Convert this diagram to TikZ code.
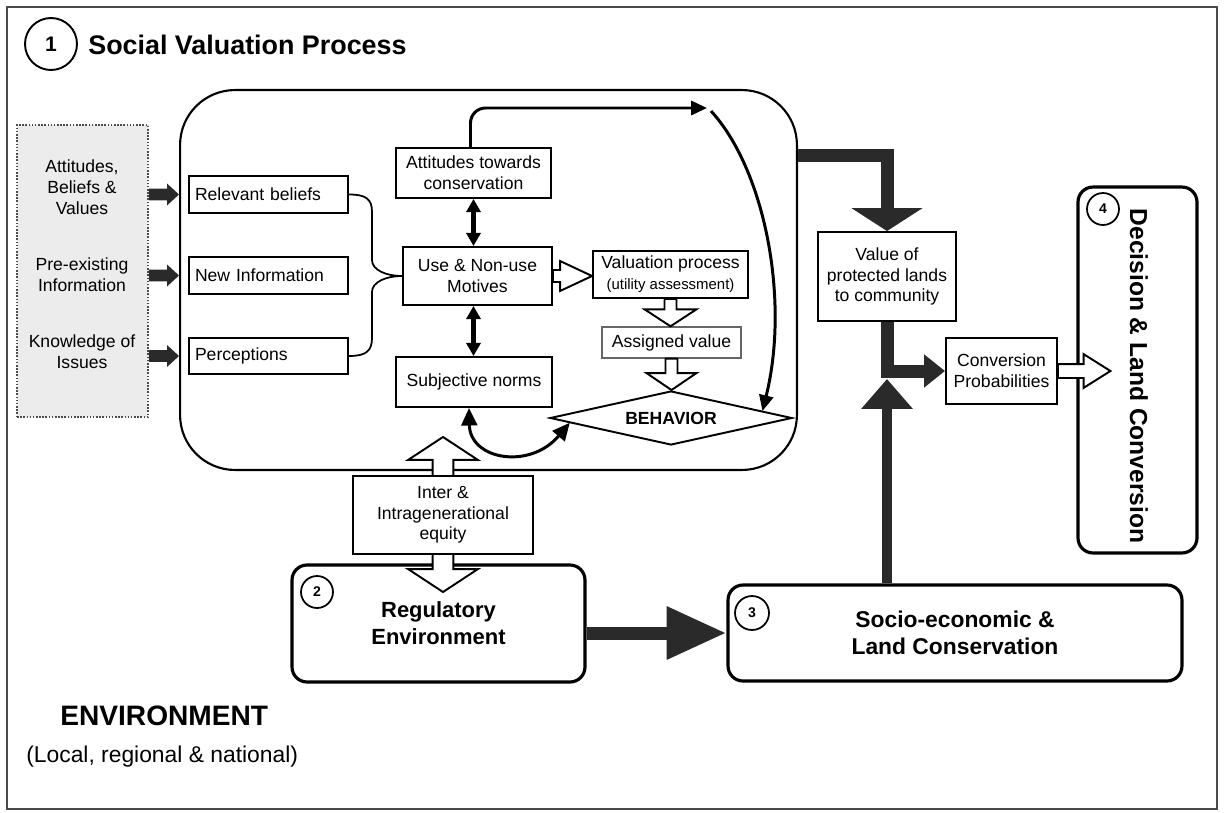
\documentclass[tikz,border=0pt]{standalone}
\usepackage{fontspec}
\setmainfont{Liberation Sans}
\usetikzlibrary{arrows.meta,shapes.geometric,calc}

\definecolor{inkdark}{HTML}{2A2A2A}
\definecolor{framegray}{HTML}{4A4A4A}
\definecolor{srcfill}{HTML}{ECECEC}

% one drawing unit is one pixel of the canvas
\def\pxu{0.5669pt}

% block arrow pointing right: style, start, tip, shaft half-width, head half-width, head length
\newcommand\rblock[6]{%
  \path[#1] let \p1=(#2), \p2=(#3) in
    (\x1,{\y1+#4*\pxu}) -- ({\x2-#6*\pxu},{\y1+#4*\pxu}) -- ({\x2-#6*\pxu},{\y1+#5*\pxu})
    -- (\x2,\y1) -- ({\x2-#6*\pxu},{\y1-#5*\pxu}) -- ({\x2-#6*\pxu},{\y1-#4*\pxu})
    -- (\x1,{\y1-#4*\pxu}) -- cycle;}
% block arrow pointing down
\newcommand\dblock[6]{%
  \path[#1] let \p1=(#2), \p2=(#3) in
    ({\x1-#4*\pxu},\y1) -- ({\x1-#4*\pxu},{\y2+#6*\pxu}) -- ({\x1-#5*\pxu},{\y2+#6*\pxu})
    -- (\x1,\y2) -- ({\x1+#5*\pxu},{\y2+#6*\pxu}) -- ({\x1+#4*\pxu},{\y2+#6*\pxu})
    -- ({\x1+#4*\pxu},\y1) -- cycle;}
% vertical block arrow with heads at both ends: style, top tip, bottom tip, ...
\newcommand\vvblock[6]{%
  \path[#1] let \p1=(#2), \p2=(#3) in
    (\x1,\y1) -- ({\x1+#5*\pxu},{\y1-#6*\pxu}) -- ({\x1+#4*\pxu},{\y1-#6*\pxu})
    -- ({\x1+#4*\pxu},{\y2+#6*\pxu}) -- ({\x1+#5*\pxu},{\y2+#6*\pxu}) -- (\x1,\y2)
    -- ({\x1-#5*\pxu},{\y2+#6*\pxu}) -- ({\x1-#4*\pxu},{\y2+#6*\pxu})
    -- ({\x1-#4*\pxu},{\y1-#6*\pxu}) -- ({\x1-#5*\pxu},{\y1-#6*\pxu}) -- cycle;}

\tikzset{
  txt/.style={inner sep=0pt, align=center, font=\fontsize{10}{11.8}\selectfont},
  box/.style={draw, line width=1.1pt, fill=white, inner sep=0pt, align=center, font=\fontsize{10}{11.8}\selectfont},
  lbox/.style={box, text width=2.94cm, align=left},
  bigbox/.style={draw, line width=1.8pt, fill=white, rounded corners=0.3cm, inner sep=0pt, align=center},
  numcirc/.style={circle, draw, line width=1pt, fill=white, inner sep=0pt, minimum size=0.64cm, font=\bfseries\fontsize{8}{9}\selectfont},
  openarrow/.style={draw, fill=white, line width=1.1pt, line join=miter},
  darkarrow/.style={fill=inkdark},
  heavy/.style={draw=inkdark, line width=#1},
  curvearrow/.style={line width=1.7pt, -{Triangle[length=9pt,width=8pt]}},
  twocurve/.style={line width=1.7pt, {Triangle[length=10pt,width=9pt]}-{Triangle[length=10pt,width=9pt]}},
  twoway/.style={line width=2.3pt, {Triangle[length=7.5pt,width=8pt]}-{Triangle[length=7.5pt,width=8pt]}},
}

\begin{document}
\begin{tikzpicture}[x=0.02cm, y=-0.02cm]
\useasboundingbox (0,0) rectangle (1224,812);

% outer frame
\draw[framegray, line width=1.1pt] (7,7) rectangle (1217,809);

% heading
\node[circle, draw, line width=1.1pt, inner sep=0pt, minimum size=1.04cm, font=\bfseries\fontsize{12}{14}\selectfont] (c1) at (51,44) {1};
\node[anchor=west, inner sep=0pt, font=\bfseries\fontsize{15.3}{18}\selectfont] (title) at (88,45) {Social Valuation Process};

% inputs
\node[draw=black!70, dash pattern=on 0.9pt off 0.9pt, line width=0.9pt, fill=srcfill, minimum width=2.62cm, minimum height=5.84cm] (src) at (82.5,271) {};
\node[txt] (a1) at (82,187) {Attitudes,\\Beliefs \&\\Values};
\node[txt] (a2) at (82,275) {Pre-existing\\Information};
\node[txt] (a3) at (82,352) {Knowledge of\\Issues};

% social valuation process frame
\node[draw, line width=1.2pt, rounded corners=1.1cm, minimum width=12.34cm, minimum height=7.6cm] (vp) at (488.5,280) {};

% lower environment boxes
\node[bigbox, minimum width=5.86cm, minimum height=2.34cm, font=\bfseries\fontsize{12.5}{15.3}\selectfont] (reg) at (438.5,623.5) {Regulatory\\Environment};
\node[bigbox, minimum width=9.08cm, minimum height=1.92cm, font=\bfseries\fontsize{13}{15.3}\selectfont] (so) at (955,633) {Socio-economic \&\\Land Conservation};
\node[bigbox, minimum width=2.38cm, minimum height=7.32cm] (dec) at (1137.5,370) {};
\node[rotate=-90, inner sep=0pt, font=\bfseries\fontsize{14}{17}\selectfont] (dect) at (1139,376) {Decision \& Land Conversion};

% perception inputs
\node[lbox, minimum width=3.18cm, minimum height=0.74cm] (rb) at (268.5,194.5) {Relevant beliefs};
\node[lbox, minimum width=3.18cm, minimum height=0.74cm] (ni) at (268.5,275.5) {New Information};
\node[lbox, minimum width=3.18cm, minimum height=0.72cm] (pe) at (268.5,356) {Perceptions};

% motives column
\node[box, minimum width=3.10cm, minimum height=1.0cm] (at) at (473.5,173) {Attitudes towards\\conservation};
\node[box, minimum width=2.98cm, minimum height=1.16cm] (um) at (477.5,276) {Use \& Non-use\\Motives};
\node[box, minimum width=3.12cm, minimum height=1.0cm] (sn) at (474,382) {Subjective norms};

% valuation column
\node[box, minimum width=3.10cm, minimum height=0.94cm] (vpr) at (670.5,274.5) {Valuation process\\{\fontsize{8.5}{10}\selectfont(utility assessment)}};
\node[box, draw=black!60, line width=0.8pt, minimum width=2.78cm, minimum height=0.62cm] (av) at (671.5,342.5) {Assigned value};
\node[draw, diamond, aspect=4.5, line width=1.1pt, fill=white, inner sep=0pt, minimum width=4.84cm, minimum height=1.08cm, font=\bfseries\fontsize{10}{12}\selectfont] (beh) at (671,418) {BEHAVIOR};

% outcome boxes
\node[box, minimum width=2.76cm, minimum height=1.78cm] (val) at (887,276.5) {Value of\\protected lands\\to community};
\node[box, minimum width=2.22cm, minimum height=1.32cm] (cp) at (1001.5,371) {Conversion\\Probabilities};

% brace gathering the three inputs
\draw[line width=1pt] (rb.east) .. controls (366,194.5) and (372,199) .. (372,212) -- (372,260) .. controls (372,270) and (386,276) .. (um.west);
\draw[line width=1pt] (pe.east) .. controls (366,356) and (372,351) .. (372,338) -- (372,292) .. controls (372,282) and (386,276) .. (um.west);

% input arrows
\rblock{darkarrow}{src.east |- rb.west}{vp.west |- rb.west}{6}{11}{12}
\rblock{darkarrow}{src.east |- ni.west}{vp.west |- ni.west}{6}{11}{12}
\rblock{darkarrow}{src.east |- pe.west}{vp.west |- pe.west}{6}{11}{12}

% two-way links in the motives column
\draw[twoway] (at.south) -- (at.south |- um.north);
\draw[twoway] (at.south |- um.south) -- (at.south |- sn.north);

% open flow arrows of the valuation
\rblock{openarrow}{um.east}{vpr.west}{6}{15}{32}
\dblock{openarrow}{vpr.south}{av.north}{6}{26}{17}
\dblock{openarrow}{av.south}{beh.north}{6}{25}{17}

% attitudes feeding behaviour
\coordinate (tp) at (707,108);
\coordinate (tp2) at (711,111);
\draw[curvearrow, rounded corners=0.3cm] ($(at.north)+(-3,0)$) |- (tp);
\draw[curvearrow] (tp2) .. controls (765,170) and (790,300) .. ($(beh.north east)!0.5!(beh.east)$);
\draw[twocurve] ($(sn.south)+(-5,0)$) .. controls (470,460) and (530,470) .. ($(beh.west)!0.17!(beh.south)$);

% equity link between the process and the regulatory environment
\coordinate (eqtop) at (443,437);
\coordinate (eqbot) at (443,592);
\vvblock{openarrow}{eqtop}{eqbot}{10.5}{35}{23}
\node[box, minimum width=3.60cm, minimum height=1.56cm] (ie) at (443,515) {Inter \&\\Intragenerational\\equity};

% heavy flow arrows
\coordinate (vpout) at ($(vp.north east)+(0,67)$);
\coordinate (junc) at ($(val.south |- cp.west)+(0,8)$);
\draw[heavy=7.4pt, -{Triangle[length=13pt,width=39.7pt]}] (vpout) -| (val.north);
\draw[heavy=7.4pt, -{Triangle[length=11.9pt,width=18.1pt]}] (val.south) |- (cp.west);
\draw[heavy=5.7pt, -{Triangle[length=17pt,width=28.3pt]}] (so.north -| junc) -- (junc);
\draw[heavy=7.4pt, -{Triangle[length=34pt,width=28.3pt]}] (reg.east |- so.west) -- (so.west);

% conversion probabilities into the decision
\rblock{openarrow}{cp.east}{$(cp.east -| dec.west)+(34,0)$}{7}{17}{27}

% section numbers
\node[numcirc] (c2) at (317,592) {2};
\node[numcirc, minimum size=0.68cm] (c3) at (752,613) {3};
\node[numcirc] (c4) at (1103,209) {4};

% environment caption
\node[anchor=west, inner sep=0pt, font=\bfseries\fontsize{16}{19}\selectfont] (envt) at (60,716) {ENVIRONMENT};
\node[anchor=west, inner sep=0pt, font=\fontsize{13}{15}\selectfont] (envs) at (26,757) {(Local, regional \& national)};
\end{tikzpicture}
\end{document}
